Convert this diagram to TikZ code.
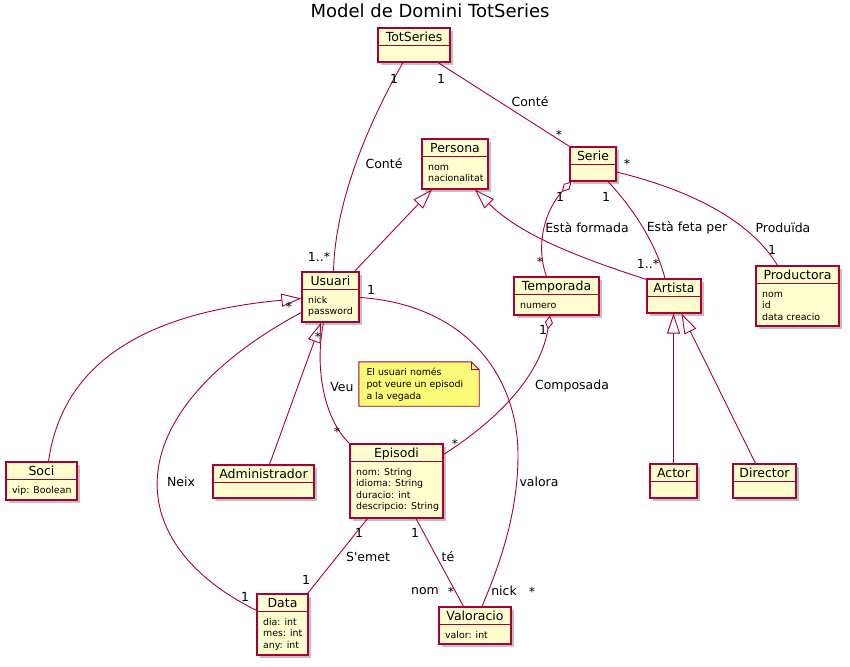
\documentclass[tikz,border=0pt]{standalone}
\usepackage{fontspec}
\setmainfont{DejaVu Sans}
\newfontfamily\plainfont{DejaVu Sans}
\usetikzlibrary{arrows.meta,shadows,fit,calc}
\definecolor{clsfill}{HTML}{FEFECE}
\definecolor{clsborder}{HTML}{A80036}
\definecolor{notefill}{HTML}{FBFB77}
\tikzset{
 cls/.style={draw=clsborder, fill=clsfill, line width=1.15pt, inner sep=0pt,
   drop shadow={shadow xshift=3pt, shadow yshift=-3pt, opacity=0.3, fill=black!80}},
 sepline/.style={draw=clsborder, line width=1pt},
 clsname/.style={font=\plainfont\fontsize{12.5}{15}\selectfont, anchor=base, inner sep=0pt},
 clsattr/.style={font=\plainfont\fontsize{9.4}{11.6}\selectfont, anchor=base west, inner sep=0pt},
 notetext/.style={clsattr},
 assoc/.style={draw=clsborder, line width=0.9pt},
 gen/.style={assoc, -{Triangle[open, length=20pt, width=13pt]}},
 agg/.style={assoc, {Diamond[open, length=14pt, width=8pt]}-},
 lbl/.style={font=\plainfont\fontsize{12.5}{15}\selectfont, inner sep=0pt},
 star/.style={lbl, yshift=-2pt},
}
\newcommand\umlclass[5]{%
  \node[cls, fit={#2 #3}] (#1) {};
  \draw[sepline] ([yshift=-18pt]#1.north west) -- ([yshift=-18pt]#1.north east);
  \node[clsname] (#1-t) at ([yshift=-14pt]#1.north) {#4};
  \foreach \a [count=\i] in {#5} {\node[clsattr] (#1-a\i) at ([xshift=6.5pt,yshift={-31.7pt-(\i-1)*11.6pt}]#1.north west) {\a};}
}
\newcommand\umlempty[4]{%
  \node[cls, fit={#2 #3}] (#1) {};
  \draw[sepline] ([yshift=-18pt]#1.north west) -- ([yshift=-18pt]#1.north east);
  \node[clsname] (#1-t) at ([yshift=-14pt]#1.north) {#4};
}
\begin{document}
\begin{tikzpicture}[x=1pt,y=-1pt]
\useasboundingbox (0,0) rectangle (850,666);
\fill[white] (0,0) rectangle (850,666);
\node[font=\plainfont\fontsize{18}{22}\selectfont, anchor=base, inner sep=0pt] (title) at (430,18) {Model de Domini TotSeries};

% classes
\umlempty{totseries}{(378,28)}{(450,62)}{TotSeries}
\umlclass{persona}{(422,139)}{(488,189)}{Persona}{nom,nacionalitat}
\umlempty{serie}{(570,147)}{(616,181)}{Serie}
\umlclass{usuari}{(302,272)}{(359,322)}{Usuari}{nick,password}
\umlclass{temporada}{(514,277)}{(599,315)}{Temporada}{numero}
\umlempty{artista}{(647,279)}{(701,313)}{Artista}
\umlclass{productora}{(756,266)}{(839,326)}{Productora}{nom,id,data creacio}
\umlclass{soci}{(6,462)}{(77,500)}{Soci}{vip: Boolean}
\umlempty{admin}{(213,465)}{(314,498)}{Administrador}
\umlclass{episodi}{(350,444)}{(443,518)}{Episodi}{nom: String,idioma: String,duracio: int,descripcio: String}
\umlclass{data}{(257,594)}{(308,655)}{Data}{dia: int,mes: int,any: int}
\umlclass{valoracio}{(439,607)}{(511,644)}{Valoracio}{valor: int}
\umlempty{actor}{(650,464)}{(697,498)}{Actor}
\umlempty{director}{(733,464)}{(796,498)}{Director}

% note
\node[fit={(359,362) (479,406)}, inner sep=0pt] (note) {};
\fill[black, opacity=0.25, shift={(3,3)}] (note.north west) -- ([xshift=-8pt]note.north east) -- ([yshift=-8pt]note.north east) -- (note.south east) -- (note.south west) -- cycle;
\filldraw[fill=notefill, draw=clsborder, line width=0.9pt] (note.north west) -- ([xshift=-8pt]note.north east) -- ([yshift=-8pt]note.north east) -- (note.south east) -- (note.south west) -- cycle;
\draw[draw=clsborder, line width=0.9pt] ([xshift=-8pt]note.north east) |- ([yshift=-8pt]note.north east);
\node[notetext] (n1) at ([xshift=7.5pt,yshift=-14pt]note.north west) {El usuari només};
\node[notetext] (n2) at ([xshift=7.5pt,yshift=-26pt]note.north west) {pot veure un episodi};
\node[notetext] (n3) at ([xshift=7.5pt,yshift=-37.6pt]note.north west) {a la vegada};

% connectors
\draw[assoc] ([xshift=-11pt]totseries.south) .. controls (370,120) and (335,200) .. ([xshift=3pt]usuari.north);
\draw[assoc] ([xshift=24pt]totseries.south) -- (serie.north west);
\draw[gen] ([xshift=24pt]usuari.north) -- ([xshift=-23pt]persona.south);
\draw[gen] ([yshift=-1pt]artista.north west) .. controls (580,258) and (520,235) .. ([xshift=20pt]persona.south);
\draw[agg] ([xshift=2pt]serie.south west) .. controls (545,210) and (535,245) .. ([xshift=-10pt]temporada.north);
\draw[assoc] ([xshift=15pt]serie.south) .. controls (630,205) and (655,240) .. ([xshift=-9pt]artista.north);
\draw[assoc] ([yshift=-8pt]serie.east) .. controls (690,190) and (750,220) .. ([xshift=-20pt]productora.north);
\draw[agg] ([xshift=-6.5pt]temporada.south) .. controls (540,380) and (490,425) .. ([yshift=-11pt]episodi.north east);
\draw[gen] ([xshift=7pt]soci.north) .. controls (60,380) and (120,315) .. ([yshift=-27pt]usuari.north west);
\draw[gen] ([xshift=6pt]admin.north) -- ([xshift=-9.5pt]usuari.south);
\draw[assoc] ([xshift=-7pt]usuari.south) .. controls (314,370) and (325,420) .. (episodi.north west);
\draw[assoc] ([yshift=-41pt]usuari.north west) .. controls (120,410) and (115,540) .. ([yshift=-17pt]data.north west);
\draw[assoc] ([yshift=-26pt]usuari.north east) .. controls (470,305) and (518,380) .. (518,455) .. controls (518,520) and (495,575) .. ([xshift=7pt]valoracio.north);
\draw[assoc] ([xshift=-29pt]episodi.south) -- ([xshift=-1pt]data.north east);
\draw[assoc] ([xshift=19.5pt]episodi.south) -- ([xshift=-11.5pt]valoracio.north);
\draw[gen] (actor.north) -- (actor.north |- artista.south);
\draw[gen] ([xshift=-9pt]director.north) -- ([xshift=7.5pt]artista.south);

% labels
\node[lbl] (m1) at (394,79) {1};
\node[lbl] (m2) at (319,257) {1..*};
\node[lbl] (a1) at (384,164) {Conté};
\node[lbl] (m3) at (441,79) {1};
\node[lbl] (a2) at (530,102) {Conté};
\node[star] (m4) at (559,133) {*};
\node[lbl] (m5) at (560,197) {1};
\node[star] (m6) at (540,260) {*};
\node[lbl] (a3) at (587,228) {Està formada};
\node[lbl] (m7) at (606,197) {1};
\node[lbl] (m8) at (648,264) {1..*};
\node[lbl] (a4) at (687,228) {Està feta per};
\node[star] (m9) at (627,162) {*};
\node[lbl] (m10) at (772,250) {1};
\node[lbl] (a5) at (783,228) {Produïda};
\node[lbl] (m11) at (543,330) {1};
\node[star] (m12) at (455,442) {*};
\node[lbl] (a6) at (572,386) {Composada};
\node[star] (m13) at (289,305) {*};
\node[star] (m14) at (318,335) {*};
\node[lbl] (a7) at (342,387) {Veu};
\node[star] (m15) at (337,430) {*};
\node[lbl] (m16) at (371,290) {1};
\node[lbl] (a8) at (539,482) {valora};
\node[lbl] (a9) at (181,482) {Neix};
\node[lbl] (m17) at (245,597) {1};
\node[lbl] (m18) at (359,533) {1};
\node[lbl] (a10) at (368,557) {S'emet};
\node[lbl] (m19) at (306,580) {1};
\node[lbl] (m20) at (415,533) {1};
\node[lbl] (a11) at (448,557) {té};
\node[lbl] (m21) at (425,591) {nom};
\node[star] (m22) at (451,590) {*};
\node[lbl] (m23) at (504,591) {nick};
\node[star] (m24) at (532,590) {*};
\end{tikzpicture}
\end{document}
